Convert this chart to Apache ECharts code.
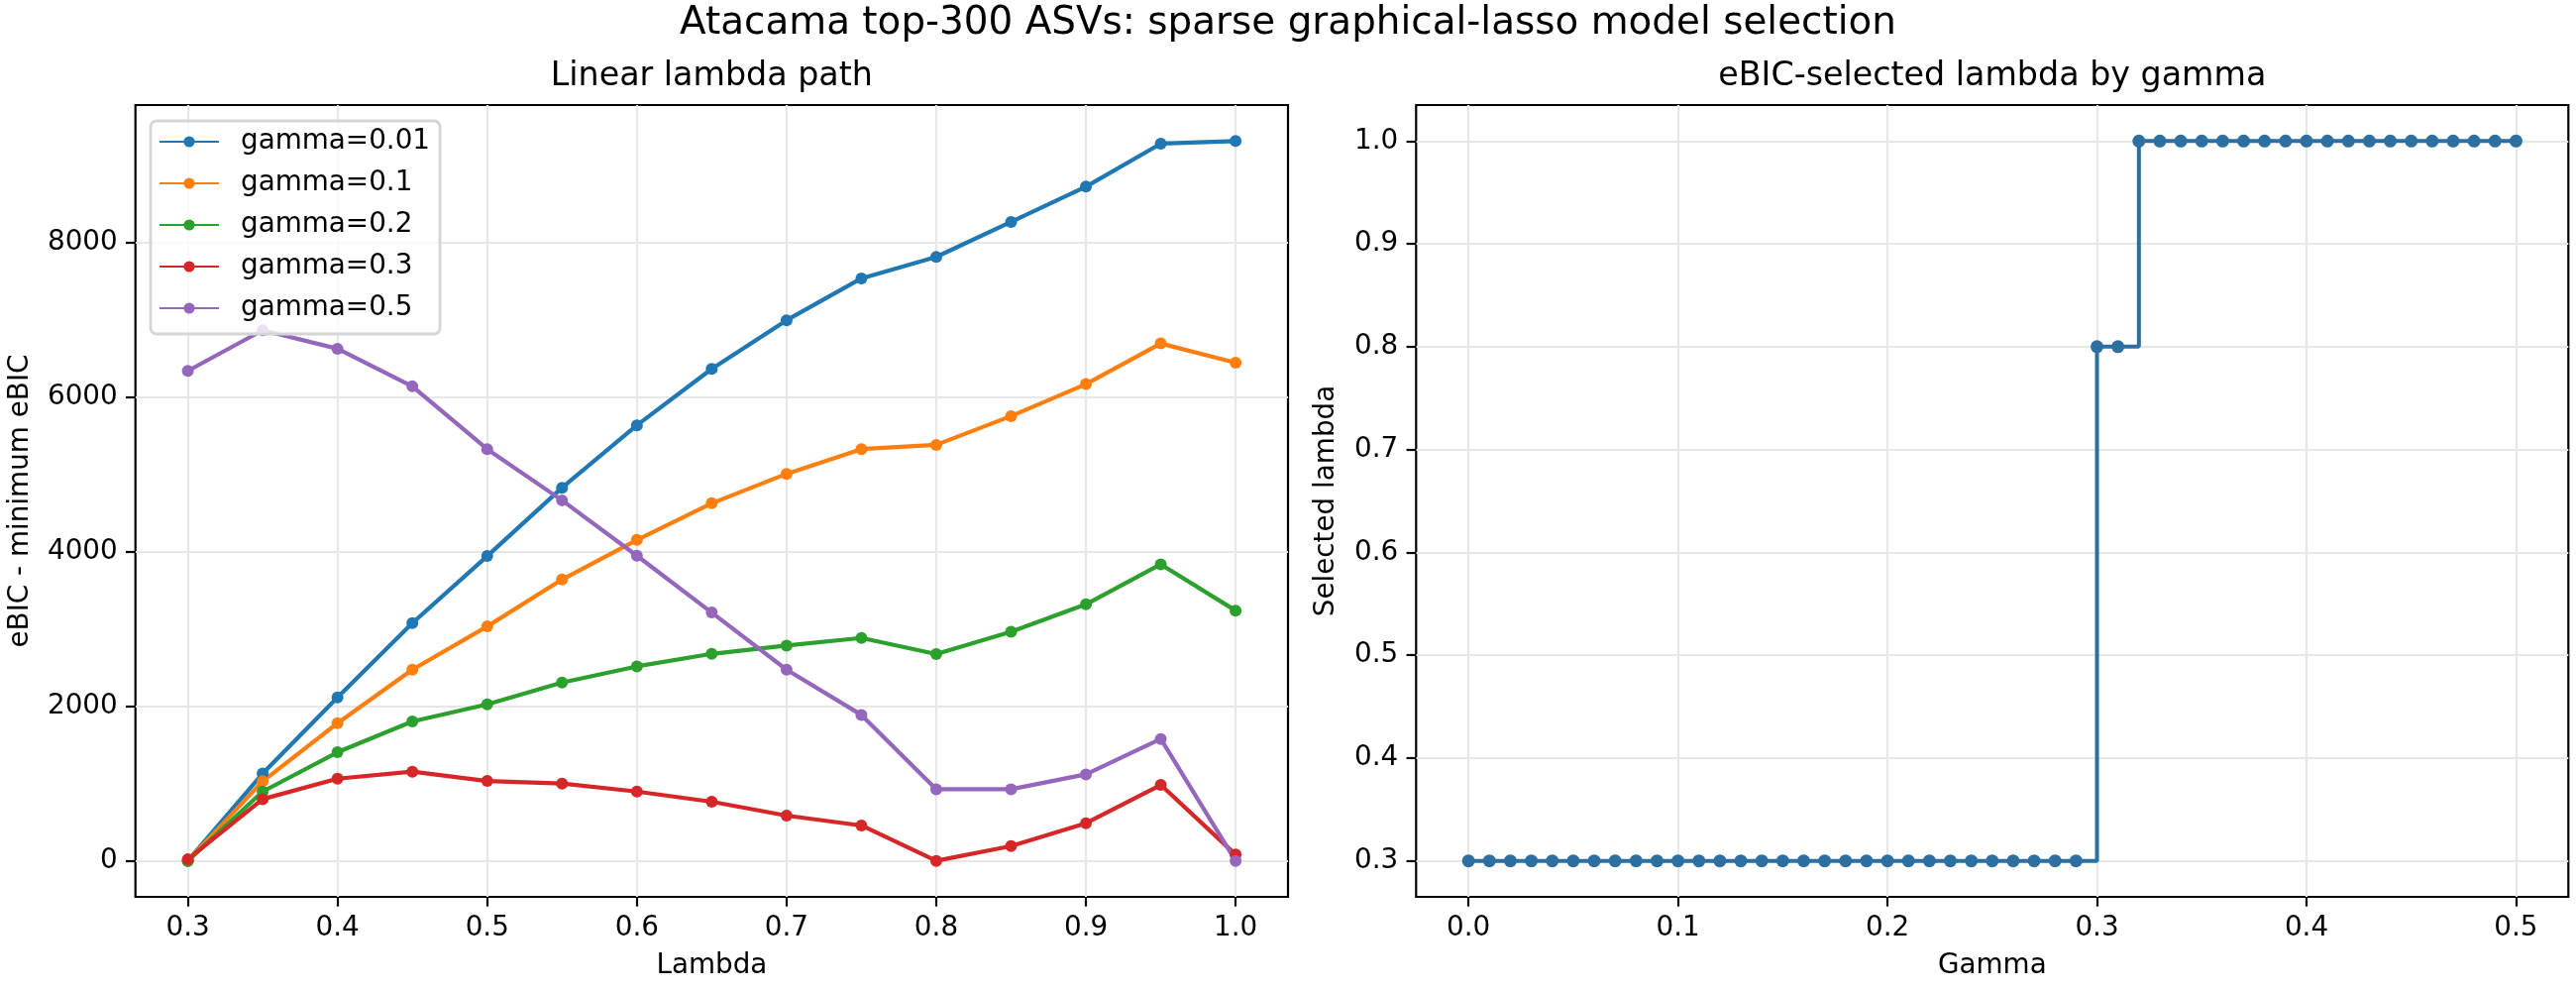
<!DOCTYPE html>
<html>
<head>
<meta charset="utf-8">
<title>Atacama top-300 ASVs: sparse graphical-lasso model selection</title>
<script src="https://cdn.jsdelivr.net/npm/echarts@6.0.0/dist/echarts.min.js"></script>
<style>
  html, body { margin: 0; padding: 0; background: #fff; }
  #chart { width: 2600px; height: 1000px; }
</style>
</head>
<body>
<div id="chart"></div>
<script>
// left panel: eBIC - minimum eBIC along the linear lambda path
const lambdas = [0.3, 0.35, 0.4, 0.45, 0.5, 0.55, 0.6, 0.65, 0.7, 0.75, 0.8, 0.85, 0.9, 0.95, 1.0]
const gammaNames = ['gamma=0.01', 'gamma=0.1', 'gamma=0.2', 'gamma=0.3', 'gamma=0.5']
const ebic_g001 = [0, 1130, 2115, 3077, 3945, 4829, 5637, 6367, 6996, 7538, 7816, 8269, 8726, 9282, 9316]
const ebic_g01 = [0, 1030, 1782, 2474, 3034, 3641, 4154, 4628, 5009, 5329, 5384, 5756, 6170, 6696, 6448]
const ebic_g02 = [0, 897, 1406, 1804, 2026, 2308, 2517, 2679, 2786, 2885, 2676, 2966, 3320, 3838, 3239]
const ebic_g03 = [20, 799, 1064, 1154, 1034, 1000, 897, 765, 586, 458, 0, 192, 487, 983, 81]
const ebic_g05 = [6341, 6867, 6628, 6141, 5329, 4666, 3949, 3214, 2474, 1889, 927, 927, 1119, 1577, 0]

// right panel: eBIC-selected lambda for each gamma
const gammaGrid = [
  0.00, 0.01, 0.02, 0.03, 0.04, 0.05, 0.06, 0.07, 0.08, 0.09,
  0.10, 0.11, 0.12, 0.13, 0.14, 0.15, 0.16, 0.17, 0.18, 0.19,
  0.20, 0.21, 0.22, 0.23, 0.24, 0.25, 0.26, 0.27, 0.28, 0.29,
  0.30, 0.31, 0.32, 0.33, 0.34, 0.35, 0.36, 0.37, 0.38, 0.39,
  0.40, 0.41, 0.42, 0.43, 0.44, 0.45, 0.46, 0.47, 0.48, 0.49, 0.50
]
const selectedLambda = [
  0.3, 0.3, 0.3, 0.3, 0.3, 0.3, 0.3, 0.3, 0.3, 0.3,
  0.3, 0.3, 0.3, 0.3, 0.3, 0.3, 0.3, 0.3, 0.3, 0.3,
  0.3, 0.3, 0.3, 0.3, 0.3, 0.3, 0.3, 0.3, 0.3, 0.3,
  0.8, 0.8, 1.0, 1.0, 1.0, 1.0, 1.0, 1.0, 1.0, 1.0,
  1.0, 1.0, 1.0, 1.0, 1.0, 1.0, 1.0, 1.0, 1.0, 1.0, 1.0
]

// tick labels
const lambdaTicks = [0.3, 0.4, 0.5, 0.6, 0.7, 0.8, 0.9, 1.0]
const ebicTicks = [0, 2000, 4000, 6000, 8000]
const gammaTicks = [0, 0.1, 0.2, 0.3, 0.4, 0.5]
const selTicks = [0.3, 0.4, 0.5, 0.6, 0.7, 0.8, 0.9, 1.0]

const colors = ['#1f77b4', '#ff7f0e', '#2ca02c', '#d62728', '#9467bd']
const FONT = 'DejaVu Sans'
const FS = 27.8

// matplotlib-like 5% margins
function pad(arr) {
  const lo = Math.min(...arr)
  const hi = Math.max(...arr)
  const m = (hi - lo) * 0.05
  return [lo - m, hi + m]
}

function axis(gridIndex, ticks, range, fmt, name, nameGap) {
  return {
    type: 'value',
    gridIndex: gridIndex,
    min: range[0],
    max: range[1],
    name: name,
    nameLocation: 'middle',
    nameGap: nameGap,
    nameTextStyle: { fontFamily: FONT, fontSize: FS, color: '#000' },
    axisLine: { show: false, onZero: false },
    axisTick: {
      show: true, inside: false, length: 9.7, customValues: ticks,
      lineStyle: { color: '#000', width: 2.2 }
    },
    axisLabel: {
      customValues: ticks, formatter: fmt, margin: 18,
      fontFamily: FONT, fontSize: FS, color: '#000'
    },
    splitLine: { show: true, lineStyle: { color: '#e7e7e7', width: 2.2 } }
  }
}

const fmt1 = v => Number(v).toFixed(1)
const fmt0 = v => String(Math.round(v))

const ebicAll = [ebic_g001, ebic_g01, ebic_g02, ebic_g03, ebic_g05]

const leftSeries = ebicAll.map((ys, i) => ({
  type: 'line',
  name: gammaNames[i],
  xAxisIndex: 0,
  yAxisIndex: 0,
  data: lambdas.map((x, j) => [x, ys[j]]),
  symbol: 'circle',
  symbolSize: 12,
  showSymbol: true,
  color: colors[i],
  lineStyle: { width: 4.2, color: colors[i] },
  itemStyle: { color: colors[i] },
  emphasis: { disabled: true }
}))

const rightSeries = {
  type: 'line',
  name: 'selected lambda',
  xAxisIndex: 1,
  yAxisIndex: 1,
  data: gammaGrid.map((g, i) => [g, selectedLambda[i]]),
  step: 'end',
  symbol: 'circle',
  symbolSize: 13,
  color: '#2c6fa0',
  lineStyle: { width: 4, color: '#2c6fa0' },
  itemStyle: { color: '#2c6fa0' },
  emphasis: { disabled: true }
}

const chart = echarts.init(document.getElementById('chart'))
chart.setOption({
  animation: false,
  backgroundColor: '#fff',
  title: [
    {
      text: 'Atacama top-300 ASVs: sparse graphical-lasso model selection',
      left: 1300, top: 4, textAlign: 'center', padding: 0,
      textStyle: { fontFamily: FONT, fontSize: 38.9, fontWeight: 'normal', color: '#000' }
    },
    {
      text: 'Linear lambda path',
      left: 718.3, top: 61, textAlign: 'center', padding: 0,
      textStyle: { fontFamily: FONT, fontSize: 33.3, fontWeight: 'normal', color: '#000' }
    },
    {
      text: 'eBIC-selected lambda by gamma',
      left: 2010.8, top: 61, textAlign: 'center', padding: 0,
      textStyle: { fontFamily: FONT, fontSize: 33.3, fontWeight: 'normal', color: '#000' }
    }
  ],
  legend: {
    data: gammaNames,
    orient: 'vertical',
    left: 152,
    top: 122,
    padding: [7, 10, 12, 8],
    itemWidth: 60,
    itemHeight: 14,
    itemGap: 14,
    backgroundColor: 'rgba(255,255,255,0.8)',
    borderColor: '#d5d5d5',
    borderWidth: 2.8,
    borderRadius: 6,
    selectedMode: false,
    textStyle: { fontFamily: FONT, fontSize: FS, color: '#000', padding: [0, 0, 0, 17] }
  },
  grid: [
    { left: 136.7, top: 106, width: 1163.3, height: 799, show: true, borderColor: '#000', borderWidth: 2.2, backgroundColor: 'transparent' },
    { left: 1429.3, top: 106, width: 1163, height: 799, show: true, borderColor: '#000', borderWidth: 2.2, backgroundColor: 'transparent' }
  ],
  xAxis: [
    axis(0, lambdaTicks, pad(lambdas), fmt1, 'Lambda', 56),
    axis(1, gammaTicks, pad(gammaGrid), fmt1, 'Gamma', 56)
  ],
  yAxis: [
    axis(0, ebicTicks, pad(ebicAll.flat()), fmt0, 'eBIC - minimum eBIC', 102),
    axis(1, selTicks, pad(selectedLambda), fmt1, 'Selected lambda', 77)
  ],
  series: leftSeries.concat([rightSeries])
})
</script>
</body>
</html>
